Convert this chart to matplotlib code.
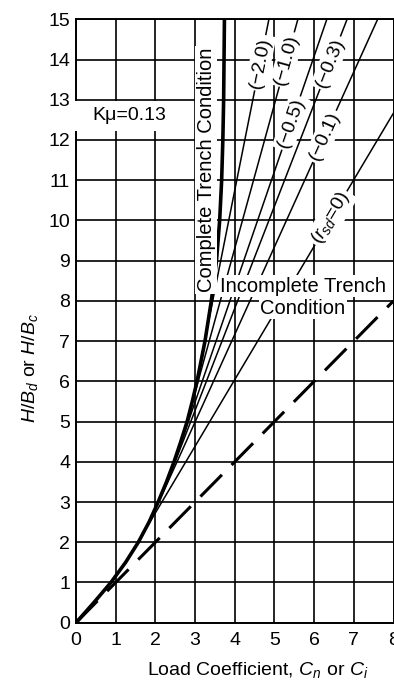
import matplotlib
matplotlib.use('Agg')
import matplotlib.pyplot as plt
import numpy as np
from matplotlib.patches import Rectangle

plt.rcParams['font.family'] = ['Liberation Sans', 'DejaVu Sans']
plt.rcParams['mathtext.fontset'] = 'custom'
plt.rcParams['mathtext.rm'] = 'Liberation Sans'
plt.rcParams['mathtext.it'] = 'Liberation Sans:italic'
plt.rcParams['mathtext.bf'] = 'Liberation Sans:bold'

# ---- data ----
# Complete trench condition curve (load coefficient C vs H/B)
complete_c = [0.0, 0.45, 0.88, 1.25, 1.57, 1.84, 2.07, 2.28, 2.47, 2.64, 2.80,
              2.93, 3.05, 3.25, 3.41, 3.54, 3.62, 3.67, 3.70, 3.72, 3.73, 3.74]
complete_h = [0.0, 0.5, 1.0, 1.5, 2.0, 2.5, 3.0, 3.5, 4.0, 4.5, 5.0,
              5.5, 6.0, 7.0, 8.0, 9.0, 10.0, 11.0, 12.0, 13.0, 14.0, 15.0]

# Incomplete trench condition lines for settlement ratios r_sd
rsd_labels = ['(\u22122.0)', '(\u22121.0)', '(\u22120.5)', '(\u22120.3)', '(\u22120.1)',
              r'($r_{sd}$=0)']
line_start_c = [3.06, 2.77, 2.50, 2.34, 2.04, 1.56]
line_start_h = [6.1, 4.9, 4.05, 3.6, 2.9, 2.0]
line_end_c = [4.86, 5.59, 6.32, 6.83, 7.60, 8.0]
line_end_h = [15.0, 15.0, 15.0, 15.0, 15.0, 12.67]
label_h = [13.92, 14.0, 12.42, 13.92, 12.09, 10.06]

# Dashed reference line
dashed_c = [0.0, 8.0]
dashed_h = [0.0, 8.0]

x_ticks = list(range(0, 9))
y_ticks = list(range(0, 16))

# ---- figure ----
W, H = 394, 685
fig = plt.figure(figsize=(W / 100, H / 100), dpi=100)
ax = fig.add_axes([76 / W, 62.3 / H, (393.5 - 76) / W, (665.7 - 62.3) / H])
ax.set_xlim(0, 8)
ax.set_ylim(0, 15)
ax.set_xticks(x_ticks)
ax.set_yticks(y_ticks)
ax.set_axisbelow(True)
ax.grid(True, color='black', linewidth=1.2)
for s in ax.spines.values():
    s.set_linewidth(1.4)
ax.tick_params(length=0, labelsize=14)
ax.tick_params(axis='x', pad=6.5)
ax.tick_params(axis='y', pad=4.3)

ax.plot(complete_c, complete_h, color='black', linewidth=2.6, zorder=3,
        solid_capstyle='butt')
for sc, sh, ec, eh in zip(line_start_c, line_start_h, line_end_c, line_end_h):
    ax.plot([sc, ec], [sh, eh], color='black', linewidth=1.1, zorder=2.5)
ax.plot(dashed_c, dashed_h, color='black', linewidth=2.2, dashes=(10, 4.5),
        zorder=2.5)

# labels on lines, rotated along them
for lab, sc, sh, ec, eh, lh in zip(rsd_labels, line_start_c, line_start_h,
                                   line_end_c, line_end_h, label_h):
    lc = np.interp(lh, [sh, eh], [sc, ec])
    p0 = ax.transData.transform((sc, sh))
    p1 = ax.transData.transform((ec, eh))
    ang = np.degrees(np.arctan2(p1[1] - p0[1], p1[0] - p0[0]))
    ax.text(lc, lh, lab, rotation=ang, rotation_mode='anchor', ha='center',
            va='center', fontsize=14, zorder=6,
            bbox=dict(boxstyle='square,pad=0.12', fc='white', ec='none'))

ax.text(3.28, 11.26, 'Complete Trench Condition', rotation=90, ha='center',
        va='center', fontsize=14.5, zorder=6,
        bbox=dict(boxstyle='square,pad=0.08', fc='white', ec='none'))
ax.text(5.73, 8.37, 'Incomplete Trench', ha='center', va='center',
        fontsize=14.5, zorder=6,
        bbox=dict(boxstyle='square,pad=0.08', fc='white', ec='none'))
ax.text(5.72, 7.82, 'Condition', ha='center', va='center', fontsize=14.5,
        zorder=6, bbox=dict(boxstyle='square,pad=0.08', fc='white', ec='none'))

ax.add_patch(Rectangle((-0.08, 12.22), 2.7, 0.74, fc='white', ec='none',
                       zorder=4, clip_on=False))
ax.text(1.34, 12.62, 'K\u03bc=0.13', ha='center', va='center', fontsize=14,
        zorder=6)

fig.text(258 / W, 15 / H, r'Load Coefficient, $C_n$ or $C_i$', ha='center',
         va='center', fontsize=14)
fig.text(30 / W, (H - 368) / H, r'$H/B_d$ or $H/B_c$', ha='center',
         va='center', rotation=90, fontsize=14)

fig.savefig('out.png', dpi=100)
